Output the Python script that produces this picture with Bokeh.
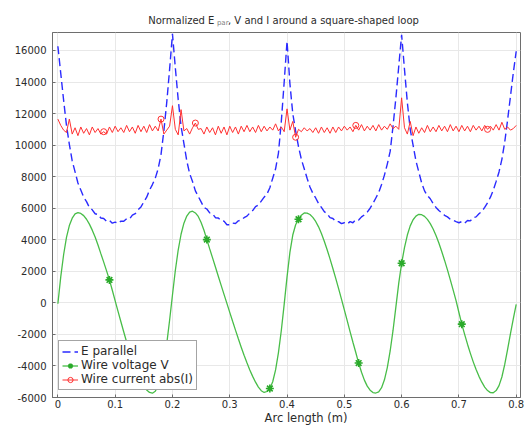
import numpy as np
from bokeh.plotting import figure
from bokeh.layouts import column
from bokeh.models import (Range1d, FixedTicker, Legend, LegendItem, PrintfTickFormatter)
from bokeh.core.properties import value
from bokeh.embed import file_html
from bokeh.resources import INLINE

# Arc length along the loop (m), sampled every 5 mm
arc_length = np.round(np.linspace(0.0, 0.8, 161), 3)

# Normalized parallel field along the wire
e_parallel = [
    16270, 14550, 12850, 11250, 10050, 9000, 8300, 7600, 7150, 6700,
    6420, 6050, 5900, 5650, 5600, 5380, 5350, 5170, 5230, 5050,
    5120, 5040, 5180, 5170, 5330, 5320, 5560, 5650, 5900, 6080,
    6400, 6700, 7150, 7500, 7900, 8500, 9400, 10900, 12700, 14800,
    17050, 14900, 12900, 11200, 10100, 9000, 8200, 7700, 7100, 6750,
    6400, 6050, 5950, 5700, 5650, 5400, 5380, 5200, 5180, 4950,
    4950, 5060, 5030, 5200, 5250, 5400, 5500, 5700, 5850, 6100,
    6200, 6450, 6700, 6900, 7300, 7900, 8500, 9500, 11500, 14000,
    16590, 13900, 12000, 10900, 9900, 9100, 8500, 7900, 7350, 6950,
    6650, 6300, 6050, 5780, 5650, 5400, 5350, 5150, 5150, 5020,
    5080, 5000, 5150, 5080, 5270, 5250, 5450, 5580, 5750, 6000,
    6300, 6650, 7000, 7500, 8100, 8800, 9600, 11200, 13000, 15000,
    17000, 14800, 12700, 11000, 10000, 9000, 8300, 7600, 7100, 6800,
    6600, 6300, 6050, 5850, 5700, 5550, 5450, 5300, 5230, 5150,
    5080, 5150, 5050, 5220, 5200, 5400, 5450, 5650, 5800, 6050,
    6350, 6700, 7150, 7700, 8300, 9100, 10200, 11600, 13100, 14600,
    15950,
]

# Wire voltage V
wire_voltage = [
    -60, 1650, 3050, 4150, 4900, 5370, 5640, 5715, 5670, 5530,
    5300, 4990, 4610, 4170, 3670, 3120, 2580, 2030, 1456, 800,
    130, -540, -1200, -1850, -2480, -3080, -3640, -4150, -4600, -4990,
    -5300, -5530, -5680, -5730, -5600, -5280, -4700, -3800, -2600, -1100,
    500, 2050, 3350, 4350, 5050, 5500, 5760, 5810, 5700, 5480,
    5100, 4600, 4010, 3420, 2850, 2270, 1690, 1110, 540, -30,
    -600, -1170, -1730, -2280, -2810, -3320, -3800, -4250, -4660, -5030,
    -5340, -5570, -5680, -5620, -5430, -5000, -4250, -3150, -1750, -100,
    1650, 3200, 4300, 4950, 5300, 5560, 5700, 5690, 5600, 5420,
    5160, 4820, 4400, 3910, 3370, 2790, 2180, 1550, 900, 240,
    -440, -1130, -1820, -2500, -3150, -3817, -4400, -4900, -5280, -5540,
    -5690, -5716, -5640, -5380, -4880, -4100, -3050, -1750, -250, 1250,
    2510, 3500, 4300, 4880, 5270, 5500, 5615, 5590, 5480, 5290,
    5020, 4680, 4270, 3790, 3260, 2690, 2090, 1460, 810, 140,
    -610, -1350, -2000, -2620, -3200, -3740, -4230, -4660, -5030, -5340,
    -5560, -5690, -5700, -5560, -5250, -4700, -3900, -2950, -1950, -1000,
    -100,
]

# Wire current magnitude abs(I)
wire_current = [
    11650, 11250, 10950, 10800, 11650, 10700, 11100, 10600, 11150, 10750,
    11050, 10650, 11150, 10800, 11050, 10700, 10850, 10700, 11150, 10800,
    11200, 10850, 11100, 10800, 11250, 10850, 11150, 10750, 11250, 10850,
    11200, 10800, 11300, 10900, 11200, 10900, 11650, 10700, 10950, 11200,
    12500, 11000, 10650, 12250, 10900, 11050, 10700, 11100, 11400, 11000,
    11050, 10700, 11150, 10800, 11100, 10650, 11200, 10750, 11150, 10650,
    11200, 10800, 11150, 10700, 11200, 10850, 11250, 10850, 11150, 10800,
    11250, 10850, 11200, 10900, 11150, 10950, 11350, 10900, 11150, 10850,
    12300, 10950, 11500, 10500, 11000, 10850, 11100, 10900, 11050, 10800,
    11100, 10750, 11150, 10800, 11100, 10750, 11150, 10800, 11150, 10900,
    11200, 10950, 11150, 10850, 11250, 10950, 11300, 10900, 11200, 10950,
    11250, 10900, 11300, 10950, 11200, 11000, 11350, 11050, 11200, 11000,
    13000, 11100, 10700, 11500, 10600, 11150, 10750, 11100, 10800, 11250,
    10850, 11150, 10850, 11250, 10900, 11200, 10850, 11300, 10900, 11200,
    10850, 11250, 10900, 11200, 10850, 11250, 10950, 11200, 10900, 11250,
    11000, 11200, 10950, 11300, 10950, 11450, 11000, 11150, 10950, 11050,
    11250,
]

# Samples that carry a marker symbol
voltage_marker_idx = [18, 52, 74, 84, 105, 120, 141]
current_marker_idx = [16, 36, 48, 83, 104, 150]

x_ticks = [0, 0.1, 0.2, 0.3, 0.4, 0.5, 0.6, 0.7, 0.8]
x_tick_labels = ["0", "0.1", "0.2", "0.3", "0.4", "0.5", "0.6", "0.7", "0.8"]
y_ticks = [-6000, -4000, -2000, 0, 2000, 4000, 6000, 8000, 10000, 12000, 14000, 16000]

title_main = "Normalized E"
title_sub = "par"
title_rest = ", V and I around a square-shaped loop"
x_label = "Arc length (m)"

FONT = "DejaVu Sans"
TEXT = "#2b2b2b"
FRAME = "#6e6e6e"
WIDTH = 528
TITLE_H = 29
XLABEL_H = 14
PLOT_H = 425 - TITLE_H - XLABEL_H


def strip(height):
    s = figure(width=WIDTH, height=height, output_backend="svg", toolbar_location=None,
               x_range=Range1d(0, WIDTH), y_range=Range1d(0, height),
               x_axis_location=None, y_axis_location=None,
               min_border=0, outline_line_color=None)
    s.grid.visible = False
    return s


# ---- title strip (text with a subscript) ----
head = strip(TITLE_H)
head.text(x=[108], y=[9.5], text=[title_main], text_align="left",
          text_baseline="alphabetic", text_font=value(FONT),
          text_font_size="10px", text_color=TEXT)
head.text(x=[185.5], y=[6.5], text=[title_sub], text_align="left",
          text_baseline="alphabetic", text_font=value(FONT),
          text_font_size="7px", text_color="#808080")
head.text(x=[198], y=[9.5], text=[title_rest], text_align="left",
          text_baseline="alphabetic", text_font=value(FONT),
          text_font_size="10px", text_color=TEXT)

# ---- main plot ----
p = figure(width=WIDTH, height=PLOT_H, output_backend="svg", toolbar_location=None,
           title=None,
           x_range=Range1d(-0.0094, 0.8075), y_range=Range1d(-6000, 17140),
           min_border_left=52, min_border_right=8,
           min_border_top=3, min_border_bottom=14)

p.outline_line_color = FRAME
p.background_fill_color = "white"
p.border_fill_color = "white"

for ax in (p.xaxis[0], p.yaxis[0]):
    ax.axis_line_color = FRAME
    ax.major_tick_line_color = FRAME
    ax.minor_tick_line_color = None
    ax.major_tick_in = 3
    ax.major_tick_out = 0
    ax.major_label_text_font = FONT
    ax.major_label_text_font_size = "10px"
    ax.major_label_text_color = TEXT

p.xaxis.ticker = FixedTicker(ticks=x_ticks)
p.xaxis.major_label_overrides = dict(zip(x_ticks, x_tick_labels))
p.xaxis.major_label_standoff = 2

p.yaxis.ticker = FixedTicker(ticks=y_ticks)
p.yaxis.formatter = PrintfTickFormatter(format="%d")
p.yaxis.major_label_standoff = 6

p.xgrid.grid_line_color = "#e8e8e8"
p.ygrid.grid_line_color = "#e8e8e8"
p.xgrid.ticker = FixedTicker(ticks=x_ticks)
p.ygrid.ticker = FixedTicker(ticks=y_ticks)

x = arc_length
blue = p.line(x, e_parallel, line_color="#2a2aff", line_width=1.4, line_dash="8 4")
green = p.line(x, wire_voltage, line_color="#48bd48", line_width=1.3)
red = p.line(x, wire_current, line_color="#ff3030", line_width=1.0)

green_pts = p.scatter(x[voltage_marker_idx], [wire_voltage[i] for i in voltage_marker_idx],
                      marker="asterisk", size=8, line_color="#2aaa2a", line_width=1.6)
red_pts = p.scatter(x[current_marker_idx], [wire_current[i] for i in current_marker_idx],
                    marker="circle", size=6, line_color="#ff3030", fill_color=None,
                    line_width=1.0)

legend = Legend(items=[
    LegendItem(label="E parallel", renderers=[blue]),
    LegendItem(label="Wire voltage V", renderers=[green, green_pts]),
    LegendItem(label="Wire current abs(I)", renderers=[red, red_pts]),
], location=(6, 7), margin=0, padding=3, spacing=-1,
    glyph_width=16, glyph_height=13, label_height=13, label_standoff=3,
    label_text_font=FONT, label_text_font_size="12px", label_text_color=TEXT,
    border_line_color="#4a4a4a", border_line_width=1.5,
    background_fill_color="white", background_fill_alpha=1.0)
p.add_layout(legend)

# ---- x-axis title strip ----
foot = strip(XLABEL_H)
foot.text(x=[286], y=[XLABEL_H - 6.3], text=[x_label], text_align="center",
          text_baseline="middle", text_font=value(FONT),
          text_font_size="11.5px", text_color=TEXT)

layout = column(head, p, foot, spacing=0)
open("out.html", "w").write(file_html(layout, INLINE))
